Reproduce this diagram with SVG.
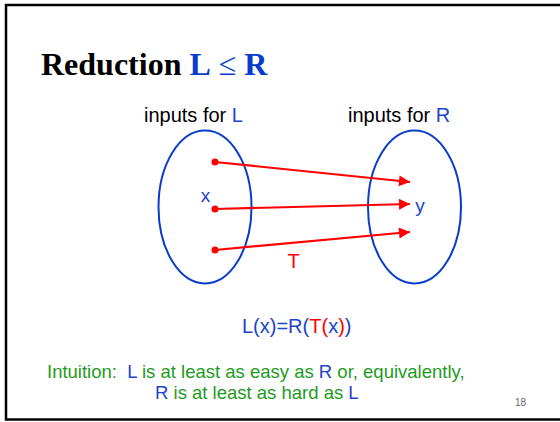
<svg xmlns="http://www.w3.org/2000/svg" width="560" height="422" viewBox="0 0 560 422">
<defs>
<style>
.s{font-family:"Liberation Sans",Arial,sans-serif}
.b{fill:#1c44cc}
.g{fill:#1e9a1e}
.r{fill:#ff0000}
.k{fill:#000}
.ell{fill:none;stroke:#0a3ccc;stroke-width:2}
.arr{stroke:#ff0000;stroke-width:2.2;fill:none;marker-end:url(#ah)}
</style>
<marker id="ah" viewBox="0 0 10 10" refX="10" refY="5" markerUnits="userSpaceOnUse" markerWidth="15" markerHeight="11" orient="auto">
<path d="M0,0 L10,5 L0,10 z" fill="#ff0000"/>
</marker>
</defs>
<rect width="560" height="422" fill="#fff"/>
<path d="M562,5 H6 V419.5 H562" fill="none" stroke="#000" stroke-width="2.5"/>
<text x="41" y="75" font-family="'Liberation Serif','Times New Roman',serif" font-size="32" font-weight="bold"><tspan class="k">Reduction </tspan><tspan fill="#0a3ccc">L</tspan><tspan fill="#0a3ccc" font-weight="normal"> ≤ </tspan><tspan fill="#0a3ccc">R</tspan></text>
<g id="inputsL">
<text x="144" y="122" class="s" font-size="20"><tspan class="k">inputs for </tspan><tspan class="b">L</tspan></text>
<ellipse cx="205" cy="207" rx="46.5" ry="76.5" class="ell"/>
<text x="205.5" y="202" class="s b" font-size="19" text-anchor="middle">x</text>
<circle cx="215" cy="162" r="3.5" class="r"/>
<circle cx="215" cy="209" r="3.5" class="r"/>
<circle cx="215" cy="250" r="3.5" class="r"/>
</g>
<g id="inputsR">
<text x="348" y="122" class="s" font-size="20"><tspan class="k">inputs for </tspan><tspan class="b">R</tspan></text>
<ellipse cx="414.5" cy="207" rx="46.5" ry="76.5" class="ell"/>
<text x="420" y="212" class="s b" font-size="19" text-anchor="middle">y</text>
</g>
<g id="connectors">
<line x1="215" y1="162" x2="410" y2="182" class="arr"/>
<line x1="215" y1="209" x2="410" y2="204" class="arr"/>
<line x1="215" y1="250" x2="410" y2="232" class="arr"/>
<text x="293.5" y="268" class="s r" font-size="20" text-anchor="middle">T</text>
</g>
<text x="242" y="333" class="s b" font-size="20">L(x)=R(<tspan class="r">T(</tspan>x<tspan class="r">)</tspan>)</text>
<text x="47" y="378" class="s g" font-size="18.5" xml:space="preserve">Intuition:  <tspan class="b">L</tspan> is at least as easy as <tspan class="b">R</tspan> or, equivalently,</text>
<text x="155" y="399" class="s g" font-size="18.5"><tspan class="b">R</tspan> is at least as hard as <tspan class="b">L</tspan></text>
<text x="515" y="406" class="s" font-size="10" fill="#666">18</text>
</svg>
